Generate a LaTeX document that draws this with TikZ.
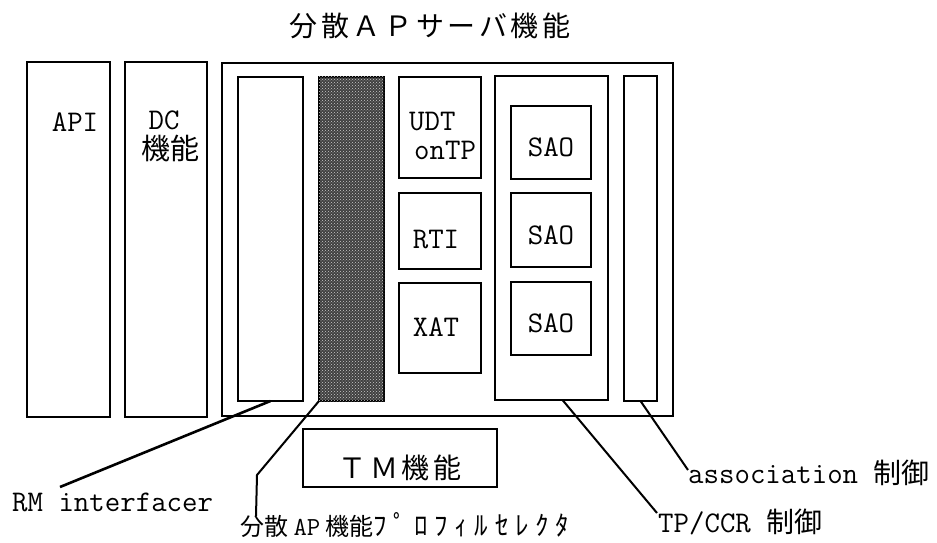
\documentclass[tikz,border=0pt]{standalone}
\usepackage{fontspec}
\newfontfamily\jp{Noto Sans CJK JP}
\newfontfamily\jpwide{Noto Sans CJK JP}[LetterSpace=13]
\newfontfamily\jpkana{Noto Sans CJK JP}[LetterSpace=25]
\newcommand\jfn[1]{{\jp\fontsize{28}{28}\selectfont #1}}
\usetikzlibrary{positioning,patterns,calc}
\tikzset{
    %plain block
    blk/.style={
      rectangle,
      draw=black, line width=2pt,
      inner sep=0pt, outer sep=0pt,
      anchor=north west},
    hatchbox/.style={
      blk,
      fill=black!75,
      postaction={pattern=crosshatch dots, pattern color=white!80!black}},
    mono/.style={
      font=\fontsize{30}{27}\selectfont\ttfamily,
      inner sep=0pt},
    jtw/.style={
      font=\fontsize{28}{30}\selectfont\jpwide,
      inner sep=0pt},
    lead/.style={
      draw=black, line width=2pt},
}

\begin{document}
\begin{tikzpicture}[x=1pt,y=-1pt]
    \useasboundingbox (0,0) rectangle (937,543);
    \node (title) [jtw] at (430,26) {分散ＡＰサーバ機能};
    % left columns
    \node (api) [blk, minimum width=83pt, minimum height=355pt] at (27,62) {};
    \node (dc) [blk, minimum width=82pt, minimum height=355pt]
          [right=15pt of api] {};
    % distributed AP server
    \node (outer) [blk, minimum width=451pt, minimum height=353pt] at (222,63) {};
    \node (rmi) [blk, minimum width=65pt, minimum height=324pt] at (238,77) {};
    \node (sel) [hatchbox, minimum width=65pt, minimum height=324pt]
          [right=16pt of rmi] {};
    \node (udt) [blk, minimum width=82pt, minimum height=101pt] at (399,77) {};
    \node (rti) [blk, minimum width=82pt, minimum height=76pt]
          [below=15pt of udt] {};
    \node (xat) [blk, minimum width=82pt, minimum height=90pt]
          [below=14pt of rti] {};
    \node (tpccr) [blk, minimum width=113pt, minimum height=324pt] at (495,76) {};
    \node (sao1) [blk, minimum width=80pt, minimum height=73pt] at (511,106) {};
    \node (sao2) [blk, minimum width=80pt, minimum height=74pt]
          [below=14pt of sao1] {};
    \node (sao3) [blk, minimum width=80pt, minimum height=73pt]
          [below=15pt of sao2] {};
    \node (assoc) [blk, minimum width=33pt, minimum height=325pt] at (624,76) {};
    \node (tm) [blk, minimum width=194pt, minimum height=58pt] at (303,429) {};
    % texts
    \node (apitxt) [mono] at (75,122) {API};
    \node (dctxt) [mono] at (164,120) {DC};
    \node (dcjp) [inner sep=0pt, font=\fontsize{29}{29}\selectfont\jp]
          at (170,148) {機能};
    \node (udttxt) [mono, anchor=west] at (409,122) {UDT};
    \node (ontptxt) [mono, anchor=west] at (414,150) {onTP};
    \node (rtitxt) [mono] at (436,240) {RTI};
    \node (xattxt) [mono] at (436,327) {XAT};
    \foreach \i in {1,2,3}
      \node (saotxt\i) [mono, yshift=-5pt] at (sao\i) {SAO};
    \node (tmtxt) [jtw] at (400,468) {ＴＭ機能};
    % labels
    \node (rmlbl) [mono, anchor=west] at (12,502) {RM interfacer};
    \node (sellbl) [anchor=west, inner sep=0pt, font=\fontsize{24}{24}\selectfont\jp]
          at (240,525) {分散 {\ttfamily\fontsize{26}{26}\selectfont AP} 機能{\jpkana\fontsize{27}{27}\selectfont ﾌﾟﾛﾌｨﾙｾﾚｸﾀ}};
    \node (tplbl) [mono, anchor=west] at (658,522) {TP/CCR \jfn{制御}};
    \node (aslbl) [mono, anchor=west] at (688,473) {association \jfn{制御}};
    % leaders
    \coordinate (rmend) at (60,487);
    \coordinate (selbend) at (257,475);
    \coordinate (selend) at (256,516);
    \coordinate (tpend) at (657,513);
    \coordinate (asend) at (688,470);
    \draw[lead, line width=2.6pt] (rmi.south) -- (rmend);
    \draw[lead] (sel.south west) -- (selbend) -- (selend);
    \draw[lead] ($(tpccr.south)+(11,0)$) -- (tpend);
    \draw[lead] (assoc.south) -- (asend);
\end{tikzpicture}
\end{document}
